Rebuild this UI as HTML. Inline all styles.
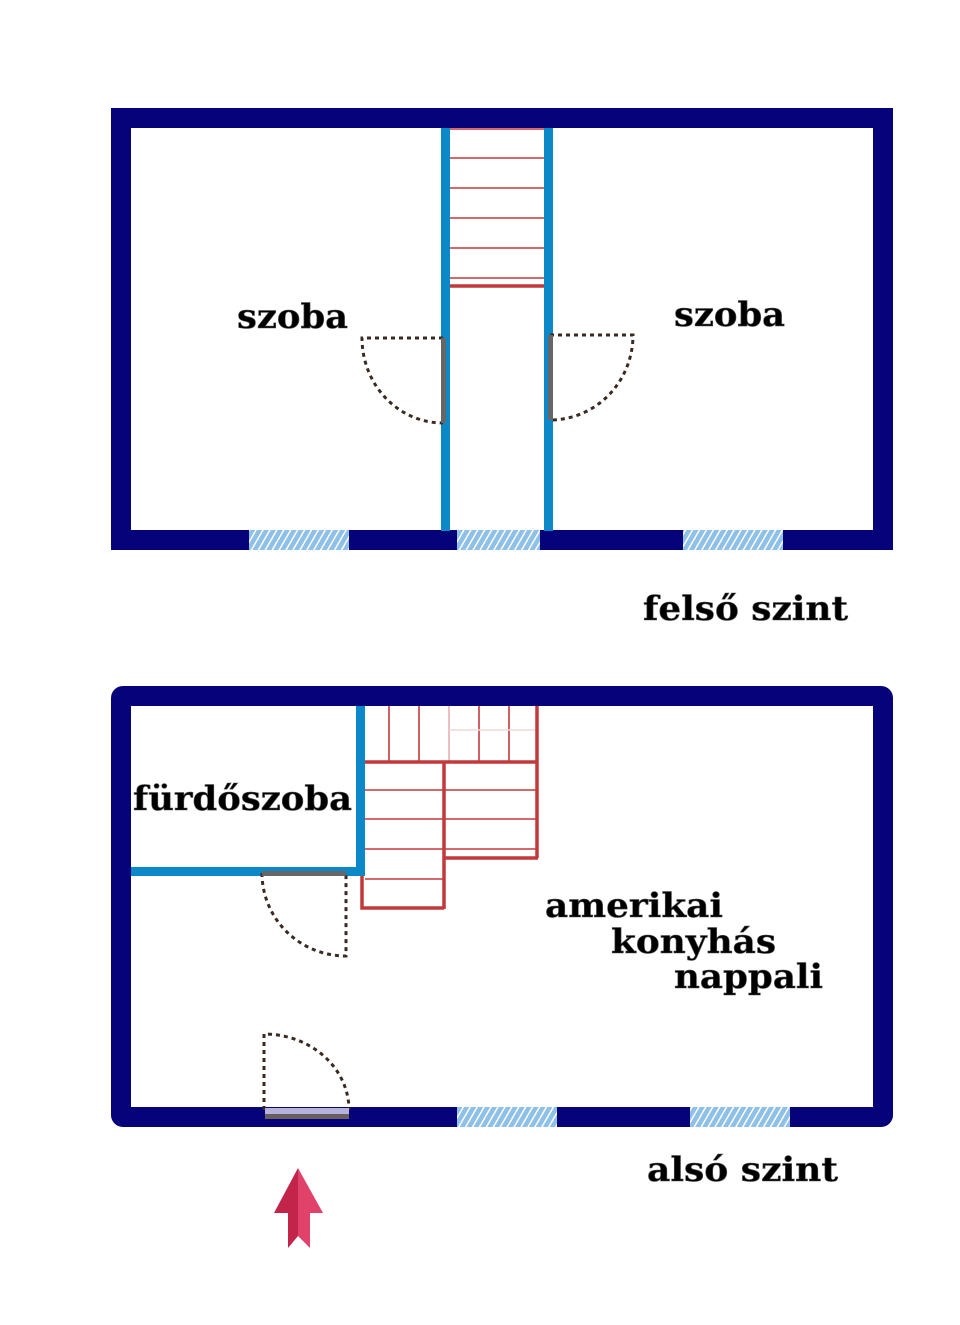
<!DOCTYPE html>
<html><head><meta charset="utf-8"><style>html,body{margin:0;padding:0;background:#fff}</style></head>
<body>
<svg width="960" height="1320" viewBox="0 0 960 1320" xmlns="http://www.w3.org/2000/svg">
<defs>
<pattern id="h" width="6" height="6" patternUnits="userSpaceOnUse" patternTransform="rotate(30)">
<rect width="6" height="6" fill="#8ec0e8"/><rect width="1.5" height="6" fill="#fff"/>
</pattern>
</defs>
<!-- TOP -->
<rect x="121" y="118" width="762" height="422" fill="none" stroke="#06037a" stroke-width="20"/>
<g stroke="#c2393c" stroke-width="1.6">
<line x1="450" y1="129" x2="544" y2="129"/><line x1="450" y1="158" x2="544" y2="158"/>
<line x1="450" y1="188" x2="544" y2="188"/><line x1="450" y1="218" x2="544" y2="218"/>
<line x1="450" y1="248" x2="544" y2="248"/><line x1="450" y1="278" x2="544" y2="278"/>
<line x1="450" y1="286" x2="544" y2="286" stroke-width="3.5"/>
</g>
<rect x="441" y="128" width="9" height="403" fill="#0a88c8"/>
<rect x="544" y="128" width="9" height="403" fill="#0a88c8"/>
<rect x="249" y="530" width="100" height="20" fill="url(#h)"/>
<rect x="457" y="530" width="83" height="20" fill="url(#h)"/>
<rect x="683" y="530" width="100" height="20" fill="url(#h)"/>
<g fill="none" stroke="#3a2a24" stroke-width="3" stroke-dasharray="4 4">
<path d="M443 338 H362 A81 85 0 0 0 443 423"/>
<path d="M550 335 H633 A83 85 0 0 1 550 420"/>
</g>
<rect x="441" y="338" width="5" height="85" fill="#666"/>
<rect x="548" y="335" width="5" height="85" fill="#666"/>
<!-- BOTTOM -->
<rect x="121" y="696" width="762" height="421" rx="2" fill="none" stroke="#06037a" stroke-width="20"/>
<g stroke="#c2393c" stroke-width="1.6" fill="none">
<line x1="389" y1="706" x2="389" y2="762"/><line x1="419" y1="706" x2="419" y2="762"/>
<line x1="449" y1="706" x2="449" y2="762" stroke="#e8b0b0"/><line x1="479" y1="706" x2="479" y2="762"/>
<line x1="509" y1="706" x2="509" y2="762"/>
<line x1="449" y1="730" x2="537" y2="730" stroke="#f0d8d8"/>
<line x1="365" y1="790" x2="537" y2="790"/><line x1="365" y1="819" x2="537" y2="819"/>
<line x1="365" y1="849" x2="537" y2="849"/><line x1="365" y1="879" x2="444" y2="879"/>
<g stroke-width="3.5">
<line x1="365" y1="762" x2="537" y2="762"/>
<line x1="537" y1="706" x2="537" y2="858"/>
<line x1="444" y1="762" x2="444" y2="909"/>
<line x1="444" y1="858" x2="538" y2="858"/>
<path d="M362 876 V908 H444"/>
</g>
</g>
<rect x="131" y="867" width="234" height="9" fill="#0a88c8"/>
<rect x="356" y="706" width="9" height="170" fill="#0a88c8"/>
<rect x="457" y="1107" width="100" height="20" fill="url(#h)"/>
<rect x="690" y="1107" width="100" height="20" fill="url(#h)"/>
<g fill="none" stroke="#3a2a24" stroke-width="3" stroke-dasharray="4 4">
<path d="M262 873 A84 83 0 0 0 346 956 V873"/>
<path d="M264 1110 V1034 A85 76 0 0 1 349 1110"/>
</g>
<rect x="262" y="871" width="84" height="5" fill="#666"/>
<rect x="265" y="1108" width="84" height="6" fill="#b5b3dc"/>
<rect x="265" y="1114" width="84" height="5" fill="#6b5e5e"/>
<!-- arrow -->
<polygon points="298,1168 274,1213 288,1213 288,1248 298,1236 298,1168" fill="#c3254a"/>
<polygon points="298,1168 323,1213 310,1213 310,1248 298,1236" fill="#e0426a"/>
<!-- text -->
<g font-family="DejaVu Serif, serif" font-weight="bold" font-size="34" fill="#000" stroke="#555" stroke-width="0.6" lengthAdjust="spacingAndGlyphs">
<text x="237" y="328" textLength="111" lengthAdjust="spacingAndGlyphs">szoba</text>
<text x="674" y="326" textLength="111" lengthAdjust="spacingAndGlyphs">szoba</text>
<text x="643" y="620" textLength="205" lengthAdjust="spacingAndGlyphs">felső szint</text>
<text x="133" y="810" textLength="219" lengthAdjust="spacingAndGlyphs">fürdőszoba</text>
<text x="545" y="917" textLength="178" lengthAdjust="spacingAndGlyphs">amerikai</text>
<text x="611" y="953" textLength="165" lengthAdjust="spacingAndGlyphs">konyhás</text>
<text x="674" y="988" textLength="149" lengthAdjust="spacingAndGlyphs">nappali</text>
<text x="647" y="1181" textLength="191" lengthAdjust="spacingAndGlyphs">alsó szint</text>
</g>
</svg>
</body></html>
